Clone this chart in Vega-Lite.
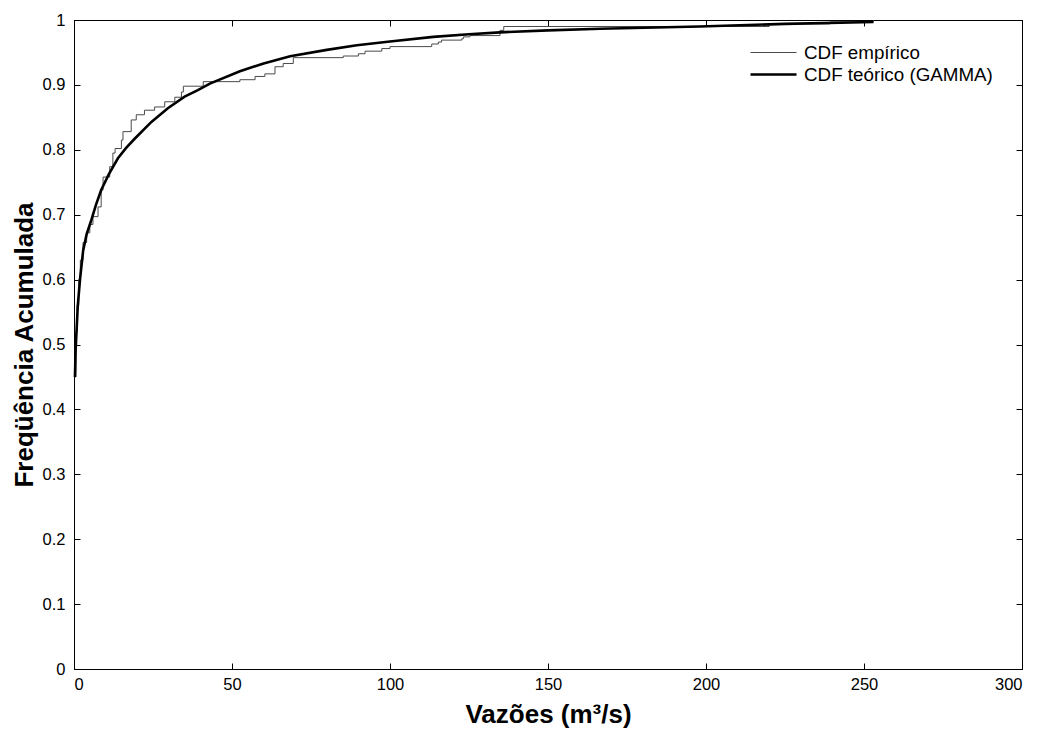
{
  "$schema": "https://vega.github.io/schema/vega-lite/v6.json",
  "width": 948,
  "height": 649,
  "autosize": {"type": "none"},
  "padding": {"left": 74, "top": 20, "right": 17, "bottom": 60},
  "background": "white",
  "config": {
    "font": "Liberation Sans",
    "view": {"stroke": "black", "strokeWidth": 1},
    "axis": {
      "grid": false,
      "domainColor": "black",
      "domainWidth": 1,
      "tickColor": "black",
      "tickWidth": 1,
      "tickSize": -6,
      "labelFont": "Liberation Sans",
      "labelFontSize": 16.5,
      "labelColor": "black",
      "labelOverlap": false,
      "titleFont": "Liberation Sans",
      "titleFontSize": 26,
      "titleFontWeight": "bold",
      "titleColor": "black"
    }
  },
  "datasets": {
    "empirico": [
      {"q": 0.3, "f": 0.45, "serie": "CDF empírico"},
      {"q": 0.6, "f": 0.52, "serie": "CDF empírico"},
      {"q": 1.0, "f": 0.56, "serie": "CDF empírico"},
      {"q": 1.5, "f": 0.60, "serie": "CDF empírico"},
      {"q": 2.0, "f": 0.63, "serie": "CDF empírico"},
      {"q": 2.85, "f": 0.657, "serie": "CDF empírico"},
      {"q": 4.0, "f": 0.672, "serie": "CDF empírico"},
      {"q": 5.0, "f": 0.685, "serie": "CDF empírico"},
      {"q": 6.0, "f": 0.697, "serie": "CDF empírico"},
      {"q": 7.6, "f": 0.712, "serie": "CDF empírico"},
      {"q": 8.6, "f": 0.738, "serie": "CDF empírico"},
      {"q": 9.2, "f": 0.758, "serie": "CDF empírico"},
      {"q": 11.3, "f": 0.774, "serie": "CDF empírico"},
      {"q": 12.3, "f": 0.795, "serie": "CDF empírico"},
      {"q": 13.0, "f": 0.802, "serie": "CDF empírico"},
      {"q": 15.0, "f": 0.815, "serie": "CDF empírico"},
      {"q": 15.5, "f": 0.828, "serie": "CDF empírico"},
      {"q": 18.1, "f": 0.846, "serie": "CDF empírico"},
      {"q": 19.7, "f": 0.854, "serie": "CDF empírico"},
      {"q": 22.3, "f": 0.861, "serie": "CDF empírico"},
      {"q": 25.5, "f": 0.866, "serie": "CDF empírico"},
      {"q": 28.7, "f": 0.874, "serie": "CDF empírico"},
      {"q": 31.9, "f": 0.881, "serie": "CDF empírico"},
      {"q": 34.0, "f": 0.889, "serie": "CDF empírico"},
      {"q": 34.6, "f": 0.898, "serie": "CDF empírico"},
      {"q": 40.9, "f": 0.905, "serie": "CDF empírico"},
      {"q": 52.5, "f": 0.908, "serie": "CDF empírico"},
      {"q": 57.3, "f": 0.913, "serie": "CDF empírico"},
      {"q": 60.4, "f": 0.917, "serie": "CDF empírico"},
      {"q": 63.6, "f": 0.928, "serie": "CDF empírico"},
      {"q": 66.2, "f": 0.933, "serie": "CDF empírico"},
      {"q": 69.4, "f": 0.942, "serie": "CDF empírico"},
      {"q": 85.2, "f": 0.9445, "serie": "CDF empírico"},
      {"q": 90.0, "f": 0.948, "serie": "CDF empírico"},
      {"q": 92.1, "f": 0.952, "serie": "CDF empírico"},
      {"q": 97.4, "f": 0.956, "serie": "CDF empírico"},
      {"q": 100.0, "f": 0.959, "serie": "CDF empírico"},
      {"q": 113.2, "f": 0.963, "serie": "CDF empírico"},
      {"q": 115.3, "f": 0.966, "serie": "CDF empírico"},
      {"q": 116.3, "f": 0.969, "serie": "CDF empírico"},
      {"q": 122.7, "f": 0.971, "serie": "CDF empírico"},
      {"q": 123.2, "f": 0.974, "serie": "CDF empírico"},
      {"q": 125.3, "f": 0.976, "serie": "CDF empírico"},
      {"q": 134.8, "f": 0.984, "serie": "CDF empírico"},
      {"q": 136.0, "f": 0.99, "serie": "CDF empírico"},
      {"q": 220.0, "f": 0.994, "serie": "CDF empírico"},
      {"q": 239.2, "f": 0.997, "serie": "CDF empírico"},
      {"q": 253.0, "f": 1.0, "serie": "CDF empírico"}
    ],
    "teorico": [
      {"q": 0.3, "f": 0.45, "serie": "CDF teórico (GAMMA)"},
      {"q": 0.5, "f": 0.49, "serie": "CDF teórico (GAMMA)"},
      {"q": 0.8, "f": 0.52, "serie": "CDF teórico (GAMMA)"},
      {"q": 1.2, "f": 0.56, "serie": "CDF teórico (GAMMA)"},
      {"q": 1.9, "f": 0.60, "serie": "CDF teórico (GAMMA)"},
      {"q": 2.9, "f": 0.645, "serie": "CDF teórico (GAMMA)"},
      {"q": 4.0, "f": 0.67, "serie": "CDF teórico (GAMMA)"},
      {"q": 5.5, "f": 0.692, "serie": "CDF teórico (GAMMA)"},
      {"q": 7.0, "f": 0.716, "serie": "CDF teórico (GAMMA)"},
      {"q": 8.6, "f": 0.738, "serie": "CDF teórico (GAMMA)"},
      {"q": 11.0, "f": 0.762, "serie": "CDF teórico (GAMMA)"},
      {"q": 13.9, "f": 0.787, "serie": "CDF teórico (GAMMA)"},
      {"q": 16.5, "f": 0.803, "serie": "CDF teórico (GAMMA)"},
      {"q": 19.2, "f": 0.817, "serie": "CDF teórico (GAMMA)"},
      {"q": 24.5, "f": 0.843, "serie": "CDF teórico (GAMMA)"},
      {"q": 29.7, "f": 0.864, "serie": "CDF teórico (GAMMA)"},
      {"q": 35.0, "f": 0.882, "serie": "CDF teórico (GAMMA)"},
      {"q": 39.2, "f": 0.892, "serie": "CDF teórico (GAMMA)"},
      {"q": 43.0, "f": 0.902, "serie": "CDF teórico (GAMMA)"},
      {"q": 52.5, "f": 0.921, "serie": "CDF teórico (GAMMA)"},
      {"q": 60.0, "f": 0.933, "serie": "CDF teórico (GAMMA)"},
      {"q": 68.4, "f": 0.944, "serie": "CDF teórico (GAMMA)"},
      {"q": 80.0, "f": 0.954, "serie": "CDF teórico (GAMMA)"},
      {"q": 89.5, "f": 0.961, "serie": "CDF teórico (GAMMA)"},
      {"q": 100.0, "f": 0.967, "serie": "CDF teórico (GAMMA)"},
      {"q": 113.7, "f": 0.974, "serie": "CDF teórico (GAMMA)"},
      {"q": 125.0, "f": 0.978, "serie": "CDF teórico (GAMMA)"},
      {"q": 134.8, "f": 0.981, "serie": "CDF teórico (GAMMA)"},
      {"q": 150.0, "f": 0.984, "serie": "CDF teórico (GAMMA)"},
      {"q": 166.5, "f": 0.9865, "serie": "CDF teórico (GAMMA)"},
      {"q": 198.0, "f": 0.99, "serie": "CDF teórico (GAMMA)"},
      {"q": 225.0, "f": 0.994, "serie": "CDF teórico (GAMMA)"},
      {"q": 253.0, "f": 0.997, "serie": "CDF teórico (GAMMA)"}
    ]
  },
  "layer": [
    {
      "data": {"name": "empirico"},
      "mark": {"type": "line", "interpolate": "step-after"},
      "encoding": {
        "x": {
          "field": "q", "type": "quantitative",
          "scale": {"domain": [0, 300], "nice": false},
          "axis": {"orient": "bottom", "values": [0, 50, 100, 150, 200, 250, 300], "labelPadding": 13, "title": "Vazões (m³/s)", "titlePadding": 9}
        },
        "y": {
          "field": "f", "type": "quantitative",
          "scale": {"domain": [0, 1], "nice": false},
          "axis": {"orient": "left", "values": [0, 0.1, 0.2, 0.3, 0.4, 0.5, 0.6, 0.7, 0.8, 0.9, 1], "format": ".1~f", "labelPadding": 15, "title": "Freqüência Acumulada", "titlePadding": 5}
        },
        "color": {
          "field": "serie", "type": "nominal",
          "scale": {"domain": ["CDF empírico", "CDF teórico (GAMMA)"], "range": ["#4a4a4a", "#000000"]},
          "legend": {
            "title": null, "orient": "none", "legendX": 688, "legendY": 22,
            "symbolType": "M-2.3,0H2.3", "symbolSize": 400, "labelFontSize": 18.8, "labelFont": "Liberation Sans",
            "labelColor": "black", "labelOffset": 19, "rowPadding": 0, "labelLimit": 400
          }
        },
        "strokeWidth": {
          "field": "serie", "type": "nominal",
          "scale": {"domain": ["CDF empírico", "CDF teórico (GAMMA)"], "range": [1, 2.6]},
          "legend": null
        }
      }
    },
    {
      "data": {"name": "teorico"},
      "mark": {"type": "line", "interpolate": "linear"},
      "encoding": {
        "x": {
          "field": "q", "type": "quantitative",
          "axis": {"orient": "top", "values": [0, 50, 100, 150, 200, 250, 300], "labels": false, "title": null}
        },
        "y": {
          "field": "f", "type": "quantitative",
          "axis": {"orient": "right", "values": [0, 0.1, 0.2, 0.3, 0.4, 0.5, 0.6, 0.7, 0.8, 0.9, 1], "labels": false, "title": null}
        },
        "color": {"field": "serie", "type": "nominal"},
        "strokeWidth": {"field": "serie", "type": "nominal", "legend": null}
      }
    }
  ],
  "resolve": {"axis": {"x": "independent", "y": "independent"}}
}
